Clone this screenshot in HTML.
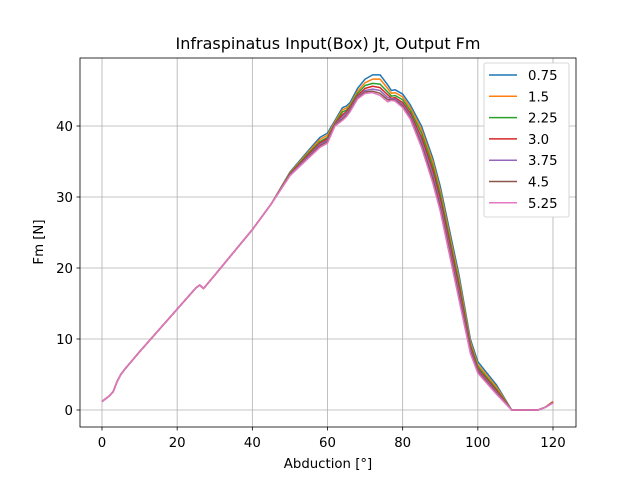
<!DOCTYPE html>
<html><head><meta charset="utf-8"><style>
body{margin:0;background:#fff}
svg{font-family:"DejaVu Sans","Liberation Sans",sans-serif}
</style></head><body>
<svg id="chart" width="640" height="480"></svg>
<script>
const xs=[0,2,3,4,5,6,10,20,25,26,27,30,40,45,50,55,58,60,62,64,65,66,68,70,72,74,76,77,78,80,82,85,88,90,95,98,100,105,109,116,118,120];
const common=[1.2,2.0,2.6,4.0,5.0,5.7,8.2,14.2,17.2,17.6,17.1,19.0,25.4,29.0];
const s075=[33.5,36.6,38.4,39.0,40.8,42.6,42.8,43.3,45.3,46.6,47.2,47.2,45.8,45.0,45.1,44.5,43.0,40.0,35.5,31.5,19.0,10.0,6.8,3.5,0,0,0.4,1.2];
const s15=[33.4,36.4,38.1,38.7,40.6,42.3,42.5,43.0,44.9,46.1,46.6,46.6,45.3,44.6,44.7,44.1,42.6,39.5,35.0,30.9,18.4,9.6,6.4,3.2,0,0,0.4,1.2];
const s225=[33.3,36.2,37.8,38.4,40.4,42.0,42.2,42.8,44.6,45.7,46.0,45.9,44.8,44.2,44.3,43.7,42.2,39.0,34.4,30.3,17.8,9.2,6.1,2.9,0,0,0.4,1.1];
const s30=[33.2,36.0,37.6,38.2,40.3,41.6,42.0,42.6,44.3,45.3,45.6,45.4,44.4,43.9,44.0,43.3,41.8,38.4,33.8,29.7,17.2,8.9,5.8,2.7,0,0,0.4,1.1];
const s375=[33.1,35.8,37.4,38.0,40.2,41.3,41.8,42.4,44.1,45.0,45.2,45.0,44.0,43.8,43.8,43.0,41.5,37.9,33.2,29.1,16.6,8.6,5.6,2.5,0,0,0.4,1.0];
const s45=[33.0,35.6,37.2,37.8,40.1,41.0,41.5,42.2,43.9,44.8,44.9,44.6,43.7,43.7,43.6,42.8,41.2,37.4,32.6,28.5,16.0,8.3,5.4,2.3,0,0,0.4,1.0];
const s525=[33.0,35.5,37.0,37.6,40.0,40.8,41.3,42.0,43.8,44.6,44.7,44.3,43.4,43.6,43.5,42.6,41.0,37.0,32.0,28.0,15.5,8.0,5.2,2.2,0,0,0.4,1.0];
const labels=["0.75","1.5","2.25","3.0","3.75","4.5","5.25"];
const series=[s075,s15,s225,s30,s375,s45,s525];
const colors=["#1f77b4","#ff7f0e","#2ca02c","#d62728","#9467bd","#8c564b","#e377c2"];
const xTicks=[0,20,40,60,80,100,120];
const yTicks=[0,10,20,30,40];
const L=80,R=576,T=58,B=427;
const X=v=>102+(v-0)*(553-102)/120;
const Y=v=>410-v*(410-126)/40;
const svg=document.getElementById('chart');
const NS="http://www.w3.org/2000/svg";
function mk(t,a,p){const e=document.createElementNS(NS,t);for(const k in a)e.setAttribute(k,a[k]);(p||svg).appendChild(e);return e;}
let g;
for(const t of xTicks){g=mk('line',{x1:X(t),x2:X(t),y1:T,y2:B,stroke:'#b0b0b0','stroke-width':0.8});


mk('line',{x1:X(t),x2:X(t),y1:B,y2:B+3.5,stroke:'#000','stroke-width':0.8});
const tx=mk('text',{x:X(t),y:B+20,'text-anchor':'middle','font-size':13.3});tx.textContent=t;

}
for(const t of yTicks){g=mk('line',{x1:L,x2:R,y1:Y(t),y2:Y(t),stroke:'#b0b0b0','stroke-width':0.8});


mk('line',{x1:L-3.5,x2:L,y1:Y(t),y2:Y(t),stroke:'#000','stroke-width':0.8});
const tx=mk('text',{x:L-7,y:Y(t)+5,'text-anchor':'end','font-size':13.3});tx.textContent=t;

}
series.forEach((s,i)=>{const vals=common.concat(s);
const d=xs.map((x,j)=>(j?'L':'M')+X(x).toFixed(2)+','+Y(vals[j]).toFixed(2)).join('');
const p=mk('path',{d:d,fill:'none',stroke:colors[i],'stroke-width':1.5,'stroke-linejoin':'round'});

});
const fr=mk('rect',{x:L,y:T,width:R-L,height:B-T,fill:'none',stroke:'#000','stroke-width':0.8});


const ti=mk('text',{x:(L+R)/2,y:49,'text-anchor':'middle','font-size':16});ti.textContent='Infraspinatus Input(Box) Jt, Output Fm';


const xl=mk('text',{x:(L+R)/2,y:468,'text-anchor':'middle','font-size':13.3});xl.textContent='Abduction [°]';


const yl=mk('text',{x:0,y:0,'text-anchor':'middle','font-size':13.3,transform:'translate(43,242) rotate(-90)'});yl.textContent='Fm [N]';


const lg=mk('g',{});


mk('rect',{x:484,y:63,width:85,height:154,fill:'#fff',stroke:'#ccc','stroke-width':0.8,rx:2},lg);
labels.forEach((l,i)=>{const yy=75+i*21.3;
mk('line',{x1:489,x2:517,y1:yy,y2:yy,stroke:colors[i],'stroke-width':1.5},lg);
const t=mk('text',{x:528,y:yy+5,'font-size':13.3},lg);t.textContent=l;

});
</script>
</body></html>
